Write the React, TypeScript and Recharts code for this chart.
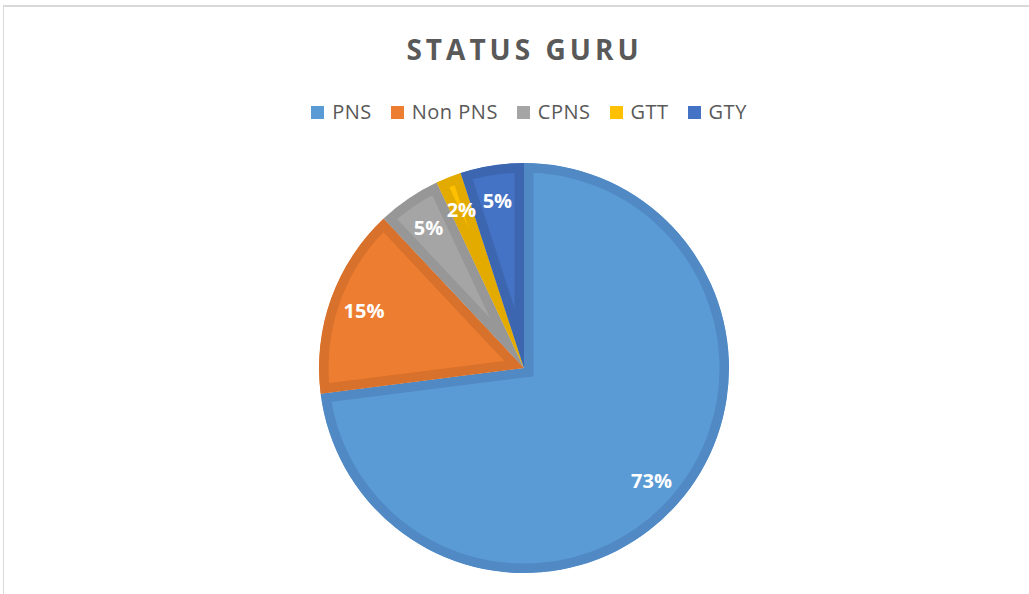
import React from "react";
import { PieChart, Pie, Cell, Sector } from "recharts";

const categories = ["PNS", "Non PNS", "CPNS", "GTT", "GTY"];
const percentValues = [73, 15, 5, 2, 5];
const fillColors = ["#5B9BD5", "#ED7D31", "#A5A5A5", "#FFC000", "#4472C4"];
const bandColors = ["#5089C4", "#D8712B", "#979797", "#E3AB00", "#3D66B0"];
const titleText = "STATUS GURU";

const data = categories.map((name, i) => ({ name, value: percentValues[i] }));

const FONT = "'Open Sans', 'DejaVu Sans', sans-serif";
const RAD = Math.PI / 180;

const BevelSector = (props: any) => {
  const name = props.name ?? props.payload?.name;
  const idx = categories.indexOf(name);
  const id = `clip-sector-${idx}`;
  const geo = {
    cx: props.cx,
    cy: props.cy,
    innerRadius: props.innerRadius,
    outerRadius: props.outerRadius,
    startAngle: props.startAngle,
    endAngle: props.endAngle,
  };
  return (
    <g>
      <defs>
        <clipPath id={id}>
          <Sector {...geo} />
        </clipPath>
      </defs>
      <Sector
        {...geo}
        fill={fillColors[idx] ?? props.fill}
        stroke={bandColors[idx] ?? props.fill}
        strokeWidth={19}
        strokeLinejoin="miter"
        clipPath={`url(#${id})`}
      />
    </g>
  );
};

const renderLabel = (props: any) => {
  const { cx, cy, midAngle, value } = props;
  const r = 170;
  const x = cx + r * Math.cos(-midAngle * RAD);
  const y = cy + r * Math.sin(-midAngle * RAD);
  return (
    <text
      x={x}
      y={y}
      fill="#FFFFFF"
      textAnchor="middle"
      dominantBaseline="central"
      style={{ fontFamily: FONT, fontWeight: 700, fontSize: 20 }}
    >
      {`${value}%`}
    </text>
  );
};

export default function App() {
  return (
    <div
      style={{
        position: "absolute",
        left: 0,
        top: 0,
        width: 1029,
        height: 594,
        overflow: "hidden",
        background: "#fff",
      }}
    >
      <div
        style={{
          position: "absolute",
          left: 3,
          top: 5,
          width: 1100,
          height: 700,
          borderTop: "2px solid #D9D9D9",
          borderLeft: "1px solid #D9D9D9",
        }}
      />
      <div
        style={{
          position: "absolute",
          left: 0,
          top: 29,
          width: 1029,
          textAlign: "center",
          fontFamily: FONT,
          fontWeight: 700,
          fontSize: 28,
          letterSpacing: 4,
          color: "#595959",
          paddingLeft: 20,
          boxSizing: "border-box",
          lineHeight: "40px",
        }}
      >
        {titleText}
      </div>
      <div
        style={{
          position: "absolute",
          left: 0,
          top: 98,
          width: 1029,
          paddingLeft: 29,
          boxSizing: "border-box",
          display: "flex",
          justifyContent: "center",
          alignItems: "center",
          fontFamily: FONT,
          fontSize: 20,
          letterSpacing: 0.5,
          color: "#595959",
          gap: 19,
          lineHeight: "28px",
        }}
      >
        {categories.map((c, i) => (
          <div key={c} style={{ display: "flex", alignItems: "center" }}>
            <span
              style={{
                display: "inline-block",
                width: 13,
                height: 13,
                background: fillColors[i],
                marginRight: 8,
              }}
            />
            <span>{c}</span>
          </div>
        ))}
      </div>
      <div style={{ position: "absolute", left: 0, top: 0 }}>
        <PieChart
          width={1029}
          height={594}
          margin={{ top: 0, right: 0, bottom: 0, left: 0 }}
        >
          <Pie
            data={data}
            dataKey="value"
            nameKey="name"
            cx={524}
            cy={368}
            outerRadius={205}
            startAngle={90}
            endAngle={-270}
            shape={BevelSector}
            label={renderLabel}
            labelLine={false}
            isAnimationActive={false}
            stroke="none"
          >
            {data.map((d, i) => (
              <Cell key={d.name} fill={fillColors[i]} />
            ))}
          </Pie>
        </PieChart>
      </div>
    </div>
  );
}
